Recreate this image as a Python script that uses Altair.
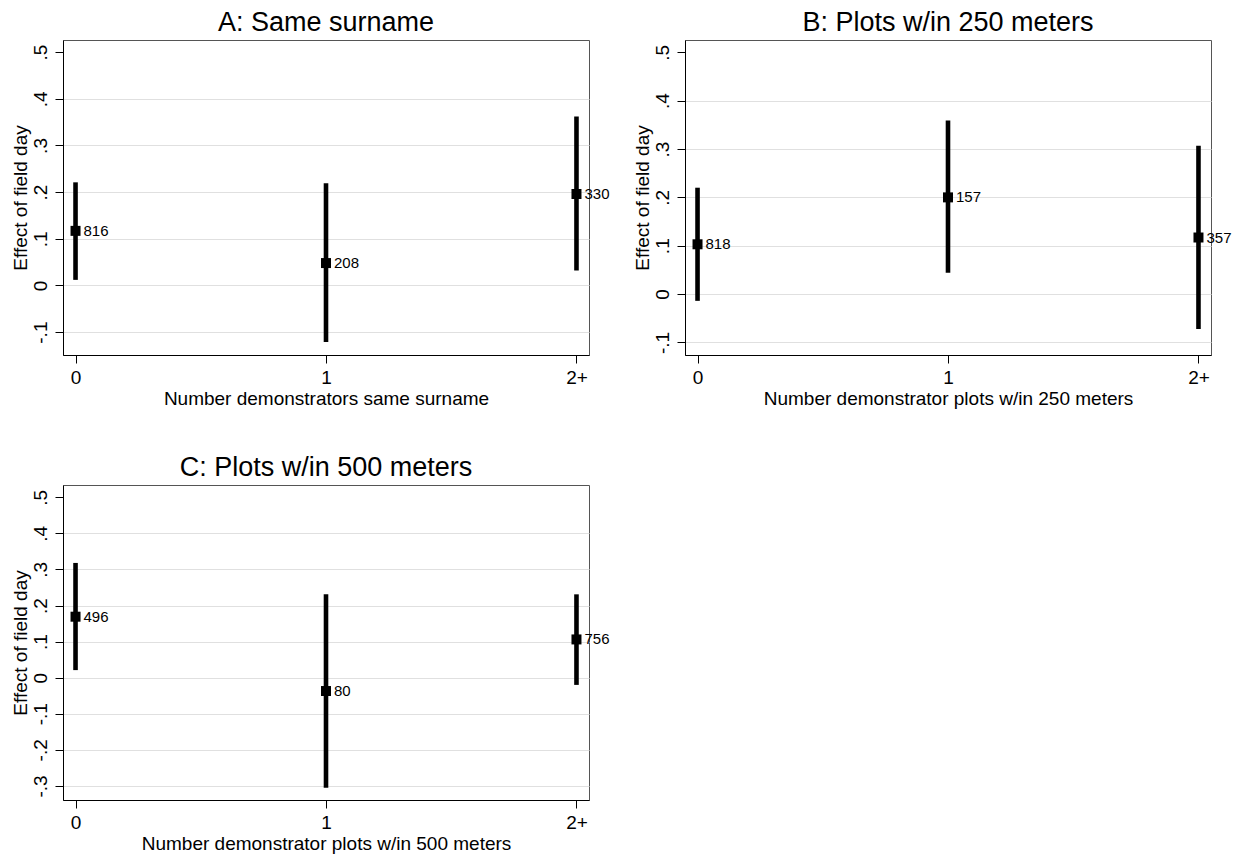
import altair as alt
import pandas as pd

FONT = "Liberation Sans"

CATEGORIES = ["0", "1", "2+"]

A_TITLE = "A: Same surname"
A_XTITLE = "Number demonstrators same surname"
A_EST = [0.117, 0.048, 0.196]
A_LO = [0.012, -0.121, 0.032]
A_HI = [0.221, 0.219, 0.362]
A_N = ["816", "208", "330"]

B_TITLE = "B: Plots w/in 250 meters"
B_XTITLE = "Number demonstrator plots w/in 250 meters"
B_EST = [0.103, 0.200, 0.117]
B_LO = [-0.014, 0.044, -0.072]
B_HI = [0.220, 0.359, 0.307]
B_N = ["818", "157", "357"]

C_TITLE = "C: Plots w/in 500 meters"
C_XTITLE = "Number demonstrator plots w/in 500 meters"
C_EST = [0.169, -0.037, 0.106]
C_LO = [0.021, -0.305, -0.020]
C_HI = [0.318, 0.231, 0.231]
C_N = ["496", "80", "756"]

YTICKS_AB = [-0.1, 0, 0.1, 0.2, 0.3, 0.4, 0.5]
YTICKS_C = [-0.3, -0.2, -0.1, 0, 0.1, 0.2, 0.3, 0.4, 0.5]
YDOM_A = [-0.149, 0.526]
YDOM_B = [-0.126, 0.5255]
YDOM_C = [-0.339, 0.534]

W, H = 526, 315
YLABEL = "Effect of field day"

LABEL_EXPR = ("datum.value == 0 ? '0' : (datum.value < 0 ? '-' + substring(format(-datum.value, '.1f'), 1)"
              " : substring(format(datum.value, '.1f'), 1))")


def panel(title, xtitle, est, lo, hi, n, ydom, yticks):
    df = pd.DataFrame({"cat": CATEGORIES, "est": est, "lo": lo, "hi": hi, "n": n})
    xaxis = alt.Axis(
        title=xtitle, labelAngle=0, labelFont=FONT, labelFontSize=19, labelColor="black",
        labelBaseline="alphabetic", labelPadding=20, tickSize=8, tickColor="black",
        domainColor="black", grid=False, titleFont=FONT, titleFontSize=19,
        titleFontWeight="normal", titleColor="black", titleBaseline="alphabetic",
        titleAlign="center", titleX=W / 2, titleY=49.5,
    )
    yaxis = alt.Axis(
        title=YLABEL, values=yticks, labelExpr=LABEL_EXPR, labelAngle=270,
        labelAlign="center", labelBaseline="alphabetic", labelPadding=9,
        labelFont=FONT, labelFontSize=19, labelColor="black", tickSize=8,
        tickColor="black", domainColor="black", grid=True, gridColor="#e0e0e0",
        gridWidth=1.2,
        gridOpacity={"condition": {"test": "datum.value > 0.45", "value": 0}, "value": 1},
        titleFont=FONT, titleFontSize=19, titleFontWeight="normal", titleColor="black",
        titleAngle=270, titleBaseline="alphabetic", titleAlign="center",
        titleX=-37, titleY=H / 2,
    )
    x = alt.X("cat:O", sort=CATEGORIES, scale=alt.Scale(type="point", padding=0.05), axis=xaxis)
    yscale = alt.Scale(domain=ydom, nice=False, zero=False)
    base = alt.Chart(df)
    rules = base.mark_rule(color="black", strokeWidth=4.6).encode(
        x=x, y=alt.Y("lo:Q", scale=yscale, axis=yaxis), y2="hi:Q"
    )
    pts = base.mark_square(color="black", size=100, opacity=1).encode(
        x=x, y=alt.Y("est:Q", scale=yscale, axis=yaxis)
    )
    txt = base.mark_text(align="left", baseline="middle", dx=8, font=FONT, fontSize=15, color="black").encode(
        x=x, y=alt.Y("est:Q", scale=yscale, axis=yaxis), text="n:N"
    )
    return alt.layer(rules, pts, txt).properties(
        width=W, height=H,
        title=alt.TitleParams(title, font=FONT, fontSize=27, fontWeight="normal", color="black",
                              anchor="middle", baseline="alphabetic", offset=-18),
    )


pa = panel(A_TITLE, A_XTITLE, A_EST, A_LO, A_HI, A_N, YDOM_A, YTICKS_AB)
pb = panel(B_TITLE, B_XTITLE, B_EST, B_LO, B_HI, B_N, YDOM_B, YTICKS_AB)
pc = panel(C_TITLE, C_XTITLE, C_EST, C_LO, C_HI, C_N, YDOM_C, YTICKS_C)

chart = alt.vconcat(
    alt.hconcat(pa, pb, spacing=21),
    pc,
    spacing=44,
).properties(
    padding={"left": 2, "top": 0, "right": 0, "bottom": 0},
    background="white",
).configure_view(stroke="#555555", strokeWidth=1)

chart.save("out.html", embed_options={"renderer": "svg", "actions": False})
